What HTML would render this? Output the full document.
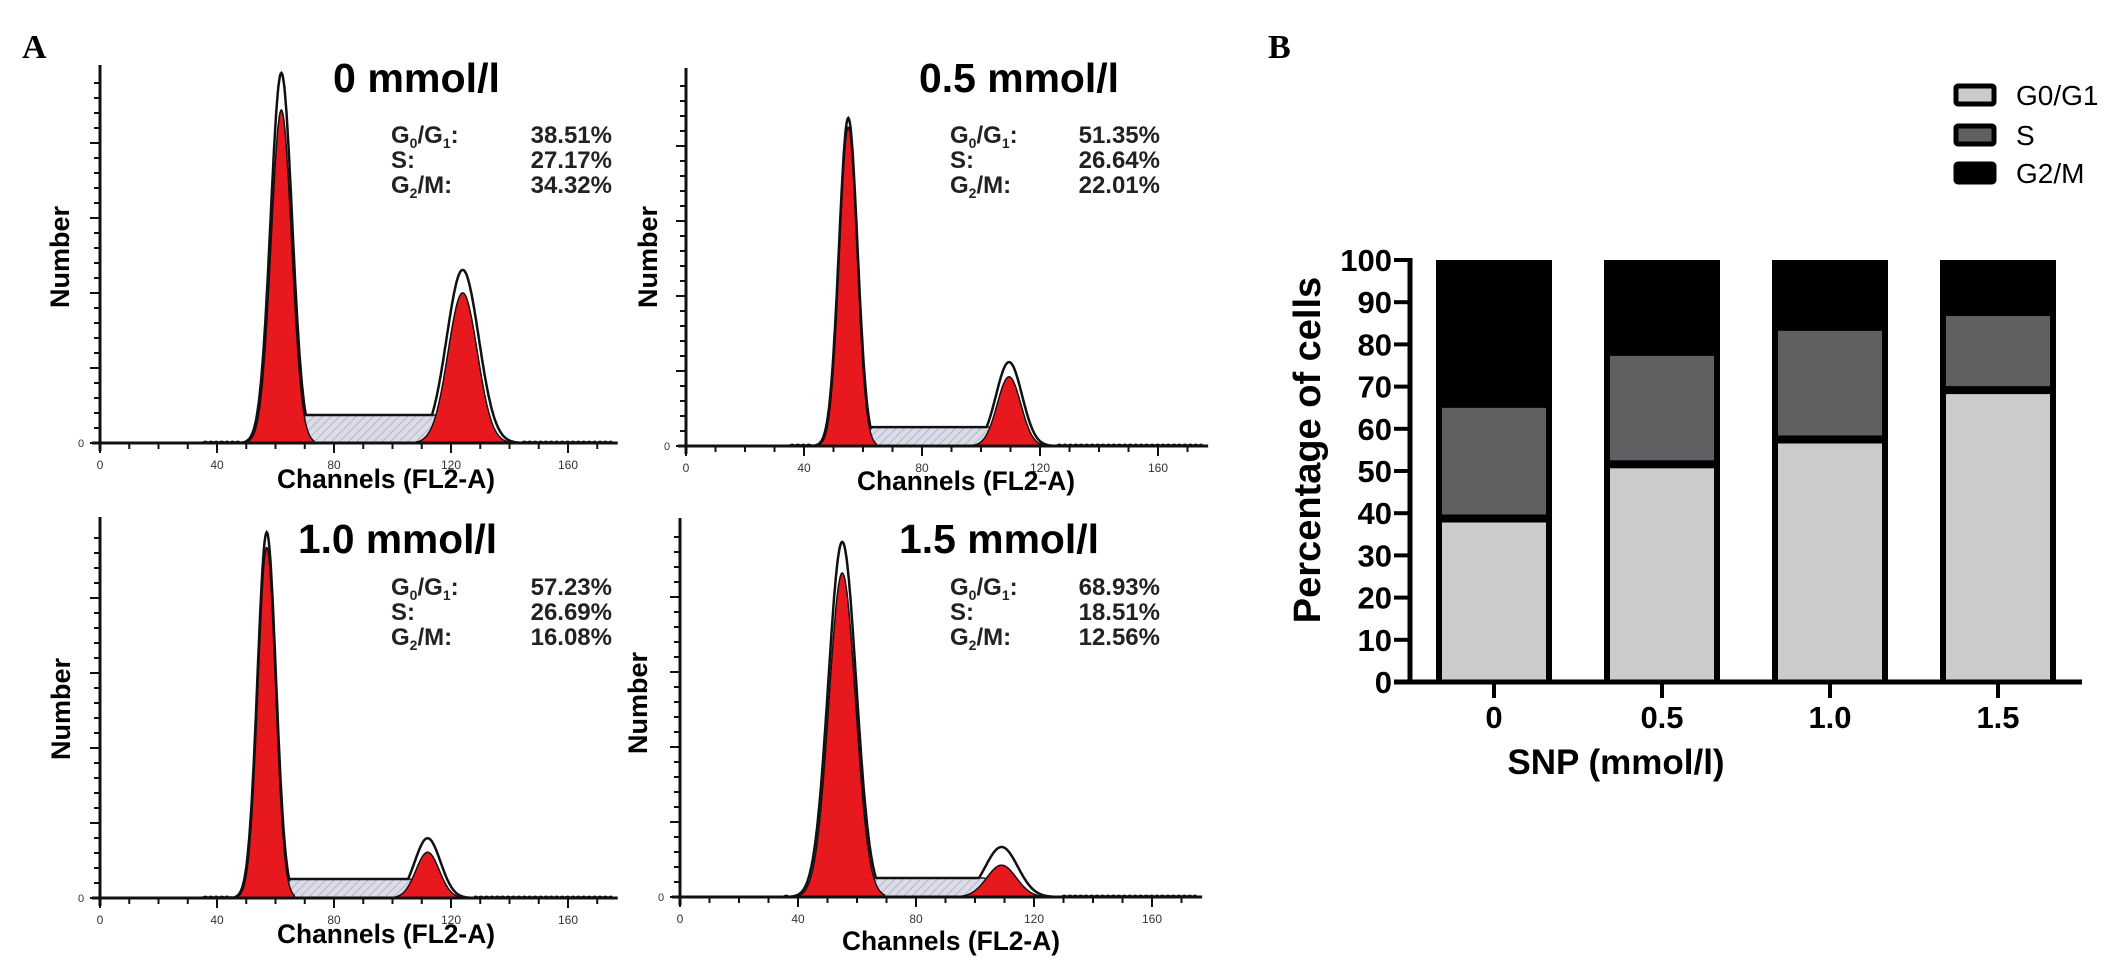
<!DOCTYPE html>
<html><head><meta charset="utf-8">
<style>
html,body{margin:0;padding:0;background:#fff;}
svg{display:block;font-family:"Liberation Sans",Arial,sans-serif;}
</style></head>
<body>
<svg id="fig" width="2126" height="968" viewBox="0 0 2126 968" xmlns="http://www.w3.org/2000/svg">
<defs>
<pattern id="hatch" width="6" height="6" patternUnits="userSpaceOnUse" patternTransform="rotate(45)">
<rect width="6" height="6" fill="#dcdce8"/>
<line x1="0" y1="0" x2="0" y2="6" stroke="#b4b4c8" stroke-width="2"/>
</pattern>
</defs>
<text x="22" y="58" font-family="Liberation Serif,serif" font-weight="bold" font-size="34">A</text>
<text x="1268" y="58" font-family="Liberation Serif,serif" font-weight="bold" font-size="34">B</text>
<g id="hists"></g>
<g id="bars"></g>
</svg>
<script>
const NS="http://www.w3.org/2000/svg";
// ---- histogram data ----
const histTitles=["0 mmol/l","0.5 mmol/l","1.0 mmol/l","1.5 mmol/l"];
const histG1=["38.51%","51.35%","57.23%","68.93%"];
const histS=["27.17%","26.64%","26.69%","18.51%"];
const histG2=["34.32%","22.01%","16.08%","12.56%"];
const g1Channel=[62,55,57,55];
const g1Red=[881,844,920,855];
const g1Outline=[979,868,960,937];
const g1Sigma=[3.5,3,3,4.5];
const g2Channel=[124,109.5,112,109];
const g2Red=[397,183,120,84];
const g2Outline=[458,222,157,132];
const g2Sigma=[5,4,4,5];
const sLevel=[74,50,50,50];
const xTickLabels=["0","40","80","120","160"];
// layout (not data)
const panels=[
 {ax:100,top:65,base:443,pxPerCh:2.925,tx:333,ty:92,tw:167,sx:391,sw:221,sy:143,nx:60,ny:257,cx:386,cy:488},
 {ax:686,top:68,base:446,pxPerCh:2.95,tx:919,ty:92,tw:200,sx:950,sw:210,sy:143,nx:648,ny:257,cx:966,cy:490},
 {ax:100,top:517,base:898,pxPerCh:2.925,tx:298,ty:553,tw:199,sx:391,sw:221,sy:595,nx:61,ny:709,cx:386,cy:943},
 {ax:680,top:518,base:897,pxPerCh:2.95,tx:899,ty:553,tw:200,sx:950,sw:210,sy:595,nx:638,ny:703,cx:951,cy:950}
];
function mk(tag,attrs,parent,txt){const e=document.createElementNS(NS,tag);for(const k in attrs)e.setAttribute(k,attrs[k]);if(txt!==undefined)e.textContent=txt;parent.appendChild(e);return e;}
const H=document.getElementById('hists');
panels.forEach((p,i)=>{
 const g=mk('g',{},H);
 
 
 const xs=ch=>p.ax+ch*p.pxPerCh;
 const ys=c=>p.base-c/1000*(p.base-p.top);
 const gauss=(x,m,s)=>Math.exp(-0.5*((x-m)/s)**2);
 const a=g1Channel[i]+2,b=g1Channel[i]+8,c=g2Channel[i]-6,d=g2Channel[i]+10;
 const tr=mk('path',{d:`M${xs(a)},${ys(0)} L${xs(b)},${ys(sLevel[i])} L${xs(c)},${ys(sLevel[i])} L${xs(d)},${ys(0)} Z`,fill:'url(#hatch)',stroke:'#222','stroke-width':1.5},g);
 
 
 [[g1Channel[i],g1Red[i],g1Sigma[i],'g1-peak'],[g2Channel[i],g2Red[i],g2Sigma[i],'g2-peak']].forEach(([m,h,s,nm])=>{
  let dd=`M${xs(m-3.2*s)},${ys(0)}`;
  for(let x=m-3.2*s;x<=m+3.2*s;x+=0.25)dd+=` L${xs(x).toFixed(1)},${ys(h*gauss(x,m,s)).toFixed(1)}`;
  dd+=` L${xs(m+3.2*s)},${ys(0)} Z`;
  const pk=mk('path',{d:dd,fill:'#e8191e',stroke:'#111','stroke-width':1.5},g);
  
  
 });
 let od='';
 for(let x=35;x<=175;x+=0.25){
  let v=g1Outline[i]*gauss(x,g1Channel[i],g1Sigma[i]*1.05)+g2Outline[i]*gauss(x,g2Channel[i],g2Sigma[i]*1.1);
  if(x>g1Channel[i]+2&&x<g2Channel[i]+6)v=Math.max(v,sLevel[i]*(x<g1Channel[i]+8?(x-g1Channel[i]-2)/6:1));
  if(x<g1Channel[i]-4*g1Sigma[i]||x>g2Channel[i]+4*g2Sigma[i])v=3*Math.abs(Math.sin(x*1.7));
  od+=(od?' L':'M')+xs(x).toFixed(1)+','+ys(v).toFixed(1);
 }
 const ol=mk('path',{d:od,fill:'none',stroke:'#111','stroke-width':2.5},g);
 
 
 const ya=mk('line',{x1:p.ax,y1:p.top,x2:p.ax,y2:p.base+8,stroke:'#111','stroke-width':3},g);
 
 
 const xa=mk('line',{x1:p.ax-8,y1:p.base,x2:xs(177),y2:p.base,stroke:'#111','stroke-width':3},g);
 
 
 let k=0;
 for(let y=p.base;y>=p.top+8;y-=15,k++){
  mk('line',{x1:p.ax-(k%5===0?10:6),y1:y,x2:p.ax,y2:y,stroke:'#111','stroke-width':2},g);
 }
 const yl=mk('text',{x:p.ax-22,y:p.base+4,'font-size':11,fill:'#333'},g,'0');
 
 
 for(let ch=0;ch<=170;ch+=10){
  mk('line',{x1:xs(ch),y1:p.base,x2:xs(ch),y2:p.base+(ch%40===0?10:6),stroke:'#111','stroke-width':2},g);
 }
 xTickLabels.forEach(t=>{
  const e=mk('text',{x:xs(+t),y:p.base+26,'font-size':12,'text-anchor':'middle',fill:'#333'},g,t);
  
  
 });
 const tt=mk('text',{x:p.tx,y:p.ty,'font-size':41,'font-weight':'bold',textLength:p.tw,lengthAdjust:'spacingAndGlyphs'},g,histTitles[i]);
 
 
 const st=mk('text',{x:p.sx,y:p.sy,'font-size':24,'font-weight':'bold',fill:'#222'},g);
 
 
 const r=p.sx+p.sw;
 st.innerHTML=`<tspan>G</tspan><tspan font-size="14" dy="5">0</tspan><tspan dy="-5">/G</tspan><tspan font-size="14" dy="5">1</tspan><tspan dy="-5">:</tspan><tspan x="${r}" text-anchor="end">${histG1[i]}</tspan>`+
  `<tspan x="${p.sx}" dy="25">S:</tspan><tspan x="${r}" text-anchor="end">${histS[i]}</tspan>`+
  `<tspan x="${p.sx}" dy="25">G</tspan><tspan font-size="14" dy="5">2</tspan><tspan dy="-5">/M:</tspan><tspan x="${r}" text-anchor="end">${histG2[i]}</tspan>`;
 const nb=mk('text',{x:p.nx,y:p.ny,'font-size':27,'font-weight':'bold','text-anchor':'middle',transform:`rotate(-90 ${p.nx} ${p.ny})`,dy:9},g,'Number');
 
 
 const cl=mk('text',{x:p.cx,y:p.cy,'font-size':27,'font-weight':'bold','text-anchor':'middle',textLength:218,lengthAdjust:'spacingAndGlyphs'},g,'Channels (FL2-A)');
 
 
});

// ---- bar chart data ----
const barCategories=["0","0.5","1.0","1.5"];
const seriesG1=[38.51,51.35,57.23,68.93];
const seriesS=[27.17,26.64,26.69,18.51];
const seriesG2=[34.32,22.01,16.08,12.56];
const yTicks=[0,10,20,30,40,50,60,70,80,90,100];
const legendLabels=["G0/G1","S","G2/M"];
const segColors=["#cbcbce","#606062","#000"];
const B=document.getElementById('bars');
const X0=1410,Y0=682,Y100=260,bw=116,firstC=1494,step=168;
const yb=v=>Y0-v/100*(Y0-Y100);
const xb=i=>firstC+i*step;
barCategories.forEach((c,i)=>{
 const total=seriesG1[i]+seriesS[i]+seriesG2[i];
 const bx=xb(i)-bw/2;
 const outer=mk('rect',{x:bx,y:yb(total),width:bw,height:Y0-yb(total),fill:'#000'},B);
 
 
 const s1=mk('rect',{x:bx+6,y:yb(seriesG1[i])+3,width:bw-12,height:Y0-yb(seriesG1[i])-3,fill:segColors[0]},B);
 
 
 const s2=mk('rect',{x:bx+6,y:yb(seriesG1[i]+seriesS[i])+3,width:bw-12,height:yb(seriesG1[i])-yb(seriesG1[i]+seriesS[i])-8,fill:segColors[1]},B);
 
 
 const tk=mk('line',{x1:xb(i),y1:Y0,x2:xb(i),y2:Y0+16,stroke:'#000','stroke-width':4},B);
 
 
 const tl=mk('text',{x:xb(i),y:Y0+46,'font-size':31,'font-weight':'bold','text-anchor':'middle'},B,c);
 
 
});
const bya=mk('line',{x1:X0,y1:Y100-2,x2:X0,y2:Y0+2,stroke:'#000','stroke-width':5},B);


const bxa=mk('line',{x1:X0-16,y1:Y0,x2:2082,y2:Y0,stroke:'#000','stroke-width':5},B);


yTicks.forEach(t=>{
 mk('line',{x1:X0-16,y1:yb(t),x2:X0,y2:yb(t),stroke:'#000','stroke-width':4},B);
 const e=mk('text',{x:X0-18,y:yb(t)+11,'font-size':31,'font-weight':'bold','text-anchor':'end'},B,String(t));
 
 
});
const yt=mk('text',{x:1320,y:450,'font-size':38,'font-weight':'bold','text-anchor':'middle',transform:'rotate(-90 1320 450)'},B,'Percentage of cells');


const xt=mk('text',{x:1616,y:774,'font-size':35,'font-weight':'bold','text-anchor':'middle'},B,'SNP (mmol/l)');


const legendY=[95,135,173];
legendLabels.forEach((l,i)=>{
 const g=mk('g',{},B);
 
 
 mk('rect',{x:1956,y:legendY[i]-9,width:38,height:18,fill:segColors[i],stroke:'#000','stroke-width':5,rx:2},g);
 mk('text',{x:2016,y:legendY[i]+10,'font-size':28},g,l);
});
</script>
</body></html>
